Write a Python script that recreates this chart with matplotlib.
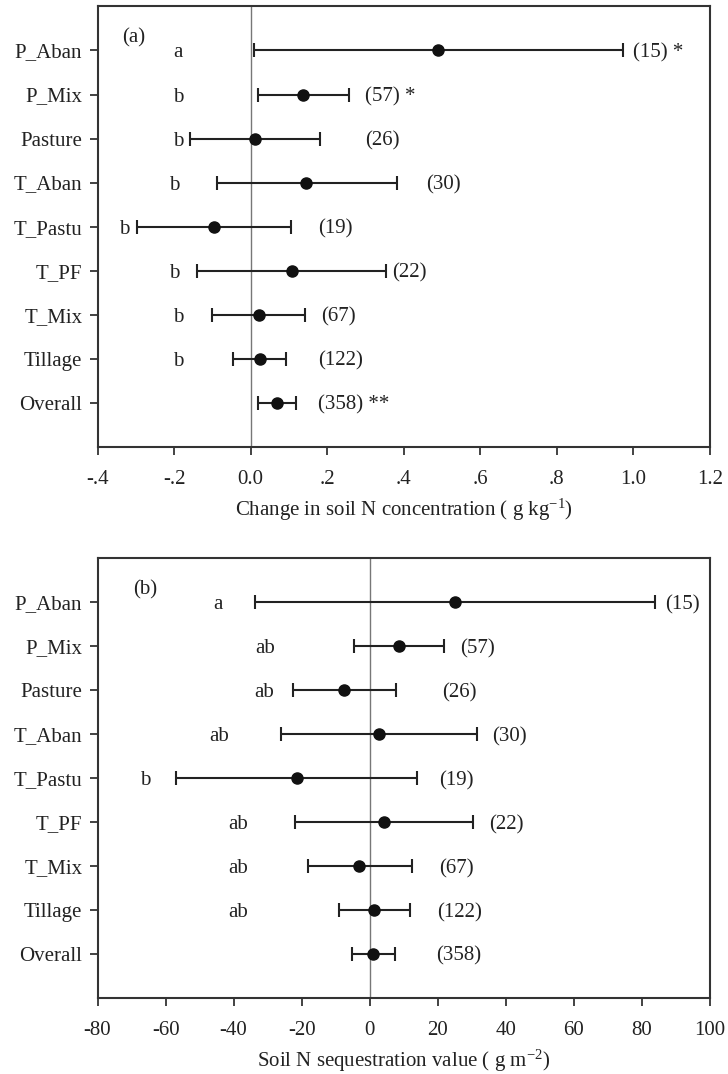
import numpy as np
import matplotlib
matplotlib.use("Agg")
import matplotlib.pyplot as plt

plt.rcParams['font.family'] = ['Liberation Serif', 'DejaVu Serif']
plt.rcParams['mathtext.default'] = 'regular'

# --- data ---
categories = ["P_Aban", "P_Mix", "Pasture", "T_Aban", "T_Pastu", "T_PF", "T_Mix", "Tillage", "Overall"]

# panel (a): change in soil N concentration (g kg-1)
a_mean = [0.491, 0.137, 0.012, 0.145, -0.096, 0.108, 0.021, 0.024, 0.069]
a_low = [0.010, 0.018, -0.158, -0.088, -0.296, -0.139, -0.100, -0.045, 0.018]
a_high = [0.973, 0.257, 0.182, 0.382, 0.105, 0.355, 0.142, 0.093, 0.118]
a_letters = ["a", "b", "b", "b", "b", "b", "b", "b", ""]
a_letter_x = [-0.19, -0.19, -0.19, -0.20, -0.33, -0.20, -0.19, -0.19, 0]
a_counts = ["(15) *", "(57) *", "(26)", "(30)", "(19)", "(22)", "(67)", "(122)", "(358) **"]
a_count_x = [1.0, 0.30, 0.30, 0.458, 0.176, 0.37, 0.185, 0.177, 0.177]
a_ticks = [-0.4, -0.2, 0.0, 0.2, 0.4, 0.6, 0.8, 1.0, 1.2]
a_ticklabels = ["-.4", "-.2", "0.0", ".2", ".4", ".6", ".8", "1.0", "1.2"]

# panel (b): soil N sequestration value (g m-2)
b_mean = [25.0, 8.5, -7.4, 2.7, -21.4, 4.1, -3.0, 1.4, 1.1]
b_low = [-33.8, -4.5, -22.4, -26.0, -56.9, -22.0, -18.0, -9.1, -5.2]
b_high = [83.9, 21.8, 7.8, 31.5, 13.9, 30.4, 12.4, 11.9, 7.5]
b_letters = ["a", "ab", "ab", "ab", "b", "ab", "ab", "ab", ""]
b_letter_x = [-44.6, -30.7, -31.0, -44.3, -65.9, -38.6, -38.6, -38.6, 0]
b_counts = ["(15)", "(57)", "(26)", "(30)", "(19)", "(22)", "(67)", "(122)", "(358)"]
b_count_x = [86.9, 26.6, 21.4, 36.1, 20.5, 35.2, 20.5, 19.8, 19.5]
b_ticks = [-80, -60, -40, -20, 0, 20, 40, 60, 80, 100]
b_ticklabels = ["-80", "-60", "-40", "-20", "0", "20", "40", "60", "80", "100"]

fig = plt.figure(figsize=(7.28, 10.74), dpi=100)
ax_a = fig.add_axes([0.134, 0.584, 0.841, 0.410])
ax_b = fig.add_axes([0.134, 0.071, 0.841, 0.409])

ypos = np.arange(len(categories), 0, -1)  # P_Aban on top


def draw_panel(ax, mean, low, high, letters, letter_x, counts, count_x,
               ticks, ticklabels, xlim, xlabel, tag, tag_x):
    mean = np.array(mean)
    err = np.vstack([mean - np.array(low), np.array(high) - mean])
    ax.axvline(0, color='#777777', lw=1.0, zorder=1)
    ax.errorbar(mean, ypos, xerr=err, fmt='o', color='#111111', ms=8,
                ecolor='#222222', elinewidth=1.5, capsize=5, capthick=1.5, zorder=3)
    for y, lab, lx in zip(ypos, letters, letter_x):
        if lab:
            ax.text(lx, y, lab, ha='center', va='center_baseline', fontsize=15, color='#222222')
    for y, c, cx in zip(ypos, counts, count_x):
        ax.text(cx, y, c, ha='left', va='center_baseline', fontsize=15, color='#222222')
    ax.text(tag_x, 9.35, tag, ha='left', va='center_baseline', fontsize=15, color='#222222')
    ax.set_xlim(*xlim)
    ax.set_ylim(0, 10)
    ax.set_yticks(ypos)
    ax.set_yticklabels(categories)
    ax.set_xticks(ticks)
    ax.set_xticklabels(ticklabels)
    ax.tick_params(axis='both', direction='out', length=6, width=1.2,
                   labelsize=15, colors='#222222')
    ax.tick_params(axis='x', pad=11)
    ax.tick_params(axis='y', pad=5)
    for s in ax.spines.values():
        s.set_linewidth(1.5)
        s.set_color('#333333')
    ax.set_xlabel(xlabel, fontsize=15, color='#222222', labelpad=5)


draw_panel(ax_a, a_mean, a_low, a_high, a_letters, a_letter_x, a_counts, a_count_x,
           a_ticks, a_ticklabels, (-0.4, 1.2),
           "Change in soil N concentration ( g kg$^{-1}$)", "(a)", -0.335)
draw_panel(ax_b, b_mean, b_low, b_high, b_letters, b_letter_x, b_counts, b_count_x,
           b_ticks, b_ticklabels, (-80, 100),
           "Soil N sequestration value ( g m$^{-2}$)", "(b)", -69.5)

fig.savefig("out.png", dpi=100)
